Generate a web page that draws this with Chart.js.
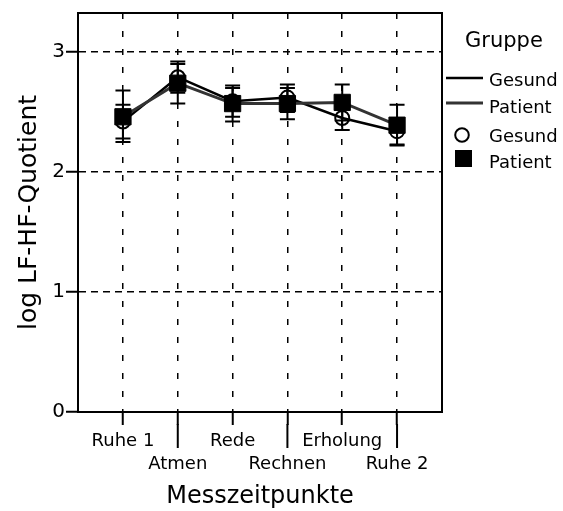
<!DOCTYPE html>
<html lang="de">
<head>
<meta charset="utf-8">
<title>log LF-HF-Quotient nach Messzeitpunkt</title>
<script src="https://cdn.jsdelivr.net/npm/chart.js@4.4.1/dist/chart.umd.min.js"></script>
<style>
  html, body { margin: 0; padding: 0; background: #fff; }
  #wrap { position: relative; width: 563px; height: 511px; }
</style>
</head>
<body>
<div id="wrap"><canvas id="hrv-chart"></canvas></div>
<script>
// Messzeitpunkte (x axis)
const categories = ['Ruhe 1', 'Atmen', 'Rede', 'Rechnen', 'Erholung', 'Ruhe 2'];
const yTicks = [0, 1, 2, 3];

// Mittelwerte und Fehlerbalken je Gruppe
const gesundMean = [2.42, 2.79, 2.59, 2.62, 2.45, 2.34];
const gesundLow = [2.28, 2.66, 2.46, 2.50, 2.35, 2.23];
const gesundHigh = [2.56, 2.92, 2.72, 2.73, 2.55, 2.45];

const patientMean = [2.46, 2.74, 2.57, 2.57, 2.58, 2.39];
const patientLow = [2.25, 2.57, 2.42, 2.44, 2.43, 2.22];
const patientHigh = [2.68, 2.90, 2.70, 2.70, 2.73, 2.56];

const legendTitle = 'Gruppe';
const groupNames = ['Gesund', 'Patient'];

const FONT = '"DejaVu Sans", sans-serif';
Chart.defaults.font.family = FONT;
Chart.defaults.color = '#000';

const toPoints = (values) => values.map((v, i) => ({ x: i, y: v }));

/**
 * Draws vertical error bars with caps for every dataset that has errLow/errHigh
 */
const errorBars = {
  id: 'errorBars',
  beforeDatasetsDraw(chart) {
    const { ctx, scales: { x, y } } = chart;
    ctx.save();
    ctx.strokeStyle = '#000';
    ctx.lineWidth = 2;
    chart.data.datasets.forEach((ds) => {
      if (!ds.errLow) { return; }
      ds.errLow.forEach((low, i) => {
        const px = x.getPixelForValue(i);
        const yLow = y.getPixelForValue(low);
        const yHigh = y.getPixelForValue(ds.errHigh[i]);
        ctx.beginPath();
        ctx.moveTo(px, yLow);
        ctx.lineTo(px, yHigh);
        ctx.moveTo(px - 7.5, yLow);
        ctx.lineTo(px + 7.5, yLow);
        ctx.moveTo(px - 7.5, yHigh);
        ctx.lineTo(px + 7.5, yHigh);
        ctx.stroke();
      });
    });
    ctx.restore();
  },
};

/**
 * Closed frame round the plot area and the longer ticks of the second label row
 */
const frame = {
  id: 'frame',
  beforeDatasetsDraw(chart) {
    const { ctx, chartArea: a, scales: { x } } = chart;
    ctx.save();
    ctx.strokeStyle = '#000';
    ctx.lineWidth = 2;
    ctx.strokeRect(a.left, a.top, a.right - a.left, a.bottom - a.top);
    categories.forEach((c, i) => {
      if (i % 2 === 0) { return; }
      const px = x.getPixelForValue(i);
      ctx.beginPath();
      ctx.moveTo(px, a.bottom + 12);
      ctx.lineTo(px, a.bottom + 36);
      ctx.stroke();
    });
    ctx.restore();
  },
};

/**
 * Legend on the right: line styles first, then the marker styles
 */
const groupLegend = {
  id: 'groupLegend',
  afterDraw(chart) {
    const { ctx, chartArea: a } = chart;
    const gesund = chart.data.datasets.find((ds) => ds.label === groupNames[0]);
    const patient = chart.data.datasets.find((ds) => ds.label === groupNames[1]);
    const x0 = a.right;
    const textX = x0 + 47;

    ctx.save();
    ctx.fillStyle = '#000';
    ctx.textBaseline = 'alphabetic';
    ctx.font = `21px ${FONT}`;
    ctx.fillText(legendTitle, x0 + 23, 47);

    ctx.font = `18px ${FONT}`;
    // line entries
    [[gesund, 78, 86], [patient, 103, 113]].forEach(([ds, ly, by]) => {
      ctx.strokeStyle = ds.borderColor;
      ctx.lineWidth = ds.borderWidth;
      ctx.beginPath();
      ctx.moveTo(x0 + 4, ly);
      ctx.lineTo(x0 + 41, ly);
      ctx.stroke();
      ctx.fillText(ds.label, textX, by);
    });

    // marker entries
    ctx.strokeStyle = '#000';
    ctx.lineWidth = 2;
    ctx.beginPath();
    ctx.arc(x0 + 20, 135, 6.8, 0, Math.PI * 2);
    ctx.stroke();
    ctx.fillText(gesund.label, textX, 142);

    ctx.fillRect(x0 + 13, 150, 17, 17);
    ctx.fillText(patient.label, textX, 168);
    ctx.restore();
  },
};

const chart = new Chart(document.getElementById('hrv-chart'), {
  type: 'line',
  data: {
    datasets: [
      {
        label: groupNames[1],
        data: toPoints(patientMean),
        errLow: patientLow,
        errHigh: patientHigh,
        borderColor: '#333',
        borderWidth: 3,
        pointStyle: 'rect',
        pointRadius: 11.5,
        pointBackgroundColor: '#000',
        pointBorderColor: '#000',
        pointBorderWidth: 1,
        tension: 0,
        order: 0,
      },
      {
        label: groupNames[0],
        data: toPoints(gesundMean),
        errLow: gesundLow,
        errHigh: gesundHigh,
        borderColor: '#000',
        borderWidth: 2.5,
        pointStyle: 'circle',
        pointRadius: 7,
        pointBackgroundColor: 'rgba(0,0,0,0)',
        pointBorderColor: '#000',
        pointBorderWidth: 2,
        tension: 0,
        order: 1,
      },
    ],
  },
  options: {
    responsive: true,
    maintainAspectRatio: false,
    animation: false,
    devicePixelRatio: 1,
    layout: { padding: { left: 0, top: 12, right: 121, bottom: 0 } },
    plugins: {
      legend: { display: false },
      tooltip: { enabled: false },
    },
    scales: {
      x: {
        type: 'linear',
        min: -0.82,
        max: 5.82,
        afterBuildTicks: (axis) => { axis.ticks = categories.map((c, i) => ({ value: i })); },
        afterFit: (axis) => { axis.height = 99; },
        grid: { color: '#000', lineWidth: 1.5, tickLength: 13, tickColor: '#000', tickWidth: 2 },
        border: { color: '#000', width: 2, dash: [6, 12] },
        ticks: {
          autoSkip: false,
          maxRotation: 0,
          padding: 5,
          color: '#000',
          font: { size: 18, lineHeight: 1.28 },
          // every second label goes to the lower row
          callback: (value) => (value % 2 ? ['', categories[value]] : categories[value]),
        },
        title: {
          display: true,
          text: 'Messzeitpunkte',
          color: '#000',
          font: { size: 24, lineHeight: 1.2 },
          padding: { top: 0, bottom: 0 },
        },
      },
      y: {
        min: 0,
        max: 3.325,
        afterBuildTicks: (axis) => { axis.ticks = yTicks.map((v) => ({ value: v })); },
        afterFit: (axis) => { axis.width = 78; },
        grid: { color: '#000', lineWidth: 1.5, tickLength: 12, tickColor: '#000', tickWidth: 2 },
        border: { color: '#000', width: 2, dash: [7, 5] },
        ticks: { padding: 1, color: '#000', font: { size: 20 } },
        title: {
          display: true,
          text: 'log LF-HF-Quotient',
          color: '#000',
          font: { size: 25, lineHeight: 1.2 },
          padding: { top: 14, bottom: 0 },
        },
      },
    },
  },
  plugins: [errorBars, frame, groupLegend],
});
</script>
</body>
</html>
